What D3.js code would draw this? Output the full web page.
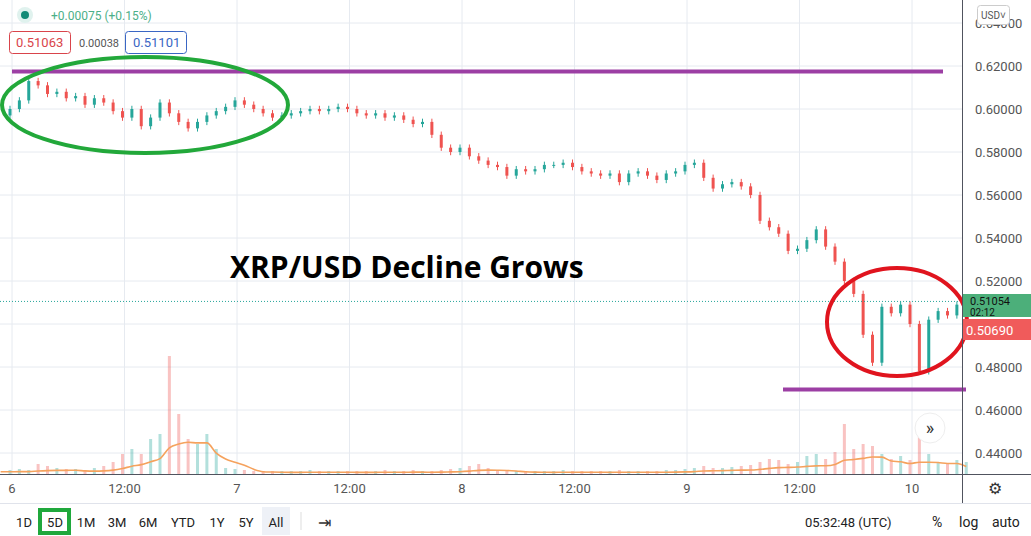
<!DOCTYPE html>
<html><head><meta charset="utf-8">
<script src="https://cdn.jsdelivr.net/npm/d3@7/dist/d3.min.js"></script>
<style>body{margin:0;background:#fff;font-family:Roboto,"Open Sans",sans-serif}</style>
</head><body><svg id="c" width="1031" height="536"></svg>
<script>
// hourly closes starting hour -1 (day 6 00:00 = hour 0)
const closes=[0.597,0.600,0.604,0.613,0.611,0.607,0.608,0.605,0.606,0.602,0.605,0.603,0.599,0.596,0.600,0.592,0.596,0.603,0.598,0.594,0.591,0.594,0.597,0.599,0.601,0.604,0.602,0.600,0.598,0.596,0.597,0.598,0.599,0.600,0.599,0.600,0.601,0.600,0.598,0.597,0.598,0.596,0.597,0.595,0.593,0.594,0.588,0.582,0.580,0.582,0.578,0.576,0.574,0.573,0.569,0.572,0.571,0.572,0.574,0.574,0.575,0.573,0.571,0.570,0.569,0.570,0.566,0.570,0.571,0.569,0.567,0.570,0.571,0.574,0.575,0.568,0.563,0.565,0.566,0.564,0.560,0.548,0.545,0.542,0.534,0.535,0.539,0.544,0.536,0.529,0.520,0.514,0.495,0.482,0.508,0.505,0.509,0.500,0.478,0.502,0.506,0.504,0.509,0.5105];
const volumes=[4,4,5,4,10,8,6,5,5,4,6,8,12,20,25,20,35,40,118,60,35,30,40,25,6,5,4,3,3,3,3,3,3,4,3,3,3,3,3,3,3,4,3,3,4,3,3,4,5,6,8,10,6,4,4,3,3,3,3,3,4,3,3,3,3,3,4,3,3,3,3,4,4,5,6,8,6,6,7,8,9,12,15,14,10,12,18,20,15,22,50,25,30,28,20,15,18,14,40,20,12,10,14,12];
const priceTicks=[0.44,0.46,0.48,0.50,0.52,0.54,0.56,0.58,0.60,0.62,0.64];
const priceLabels=[0.44,0.46,0.48,0.52,0.54,0.56,0.58,0.60,0.62,0.64];
const timeTicks=[[0,"6"],[12,"12:00"],[24,"7"],[36,"12:00"],[48,"8"],[60,"12:00"],[72,"9"],[84,"12:00"],[96,"10"]];
const ranges=["1D","5D","1M","3M","6M","YTD","1Y","5Y","All"];

const svg=d3.select("#c");
const W=962, B=474;
const x=d3.scaleLinear().domain([0,96]).range([10,910]);
const y=d3.scaleLinear().domain([0.44,0.62]).range([453,66]);
const vy=d3.scaleLinear().domain([0,130]).range([B,344]);
const grid="#e6eaf0";
svg.append("g").selectAll("line").data(priceTicks).join("line").attr("x1",0).attr("x2",W).attr("y1",d=>y(d)).attr("y2",d=>y(d)).attr("stroke",grid);
svg.append("g").selectAll("line").data(timeTicks).join("line").attr("x1",d=>x(d[0])+2).attr("x2",d=>x(d[0])+2).attr("y1",0).attr("y2",B).attr("stroke",grid);
const up="#26a69a", dn="#ef5350";
const candles=closes.slice(1).map((c,i)=>({h:i,o:closes[i],c}));
const vols=volumes;
svg.append("g").selectAll("rect").data(candles).join("rect")
 .attr("x",d=>x(d.h)-1.5).attr("width",3).attr("y",d=>vy(vols[d.h+1]||3)).attr("height",d=>B-vy(vols[d.h+1]||3))
 .attr("fill",d=>d.c>=d.o?"rgba(38,166,154,0.35)":"rgba(239,83,80,0.35)");
const ma=vols.map((v,i)=>d3.mean(vols.slice(Math.max(0,i-4),i+1)));
svg.append("path").attr("d",d3.line().x((d,i)=>x(i-1)).y(d=>vy(d*0.55)).curve(d3.curveMonotoneX)(ma))
 .attr("fill","none").attr("stroke","#f5a25d").attr("stroke-width",1.6);
const cg=svg.append("g");
cg.selectAll("line").data(candles).join("line").attr("x1",d=>x(d.h)).attr("x2",d=>x(d.h))
 .attr("y1",d=>y(Math.max(d.o,d.c)+0.0015)).attr("y2",d=>y(Math.min(d.o,d.c)-0.0015))
 .attr("stroke",d=>d.c>=d.o?up:dn);
cg.selectAll("rect").data(candles).join("rect").attr("x",d=>x(d.h)-1.5).attr("width",3)
 .attr("y",d=>y(Math.max(d.o,d.c))).attr("height",d=>Math.max(1,Math.abs(y(d.o)-y(d.c))))
 .attr("fill",d=>d.c>=d.o?up:dn);
const last=closes[closes.length-1];
svg.append("line").attr("x1",0).attr("x2",W).attr("y1",y(last)).attr("y2",y(last)).attr("stroke",up).attr("stroke-dasharray","1,2");
svg.append("line").attr("x1",12).attr("x2",943).attr("y1",y(0.6175)).attr("y2",y(0.6175)).attr("stroke","#9c3fa4").attr("stroke-width",4);
svg.append("line").attr("x1",783).attr("x2",966).attr("y1",y(0.4695)).attr("y2",y(0.4695)).attr("stroke","#9c3fa4").attr("stroke-width",4);
svg.append("ellipse").attr("cx",145).attr("cy",105).attr("rx",143).attr("ry",48).attr("fill","none").attr("stroke","#22a83a").attr("stroke-width",4);
svg.append("ellipse").attr("cx",897).attr("cy",322).attr("rx",70).attr("ry",54).attr("fill","none").attr("stroke","#e0141e").attr("stroke-width",4);
svg.append("text").attr("x",230).attr("y",278).text("XRP/USD Decline Grows").attr("font-family","'Open Sans',sans-serif").attr("font-weight",700).attr("font-size",30).attr("fill","#000");
svg.append("line").attr("x1",W+0.5).attr("x2",W+0.5).attr("y1",0).attr("y2",503).attr("stroke","#50535e");
svg.append("g").selectAll("text").data(priceLabels).join("text").attr("x",975).attr("y",d=>y(d)+5).text(d=>d.toFixed(5)).attr("font-size",13).attr("fill","#555");
svg.append("rect").attr("x",W+1).attr("y",294).attr("width",68).attr("height",23).attr("fill","#4caf7a");
svg.append("text").attr("x",970).attr("y",305).text("0.51054").attr("font-size",11).attr("fill","#111");
svg.append("text").attr("x",970).attr("y",316).text("02:12").attr("font-size",10).attr("fill","#111");
svg.append("rect").attr("x",W+1).attr("y",319).attr("width",68).attr("height",21).attr("fill","#f05b5b");
svg.append("text").attr("x",966).attr("y",335).text("0.50690").attr("font-size",13).attr("fill","#fff");
svg.append("rect").attr("x",977.5).attr("y",5.5).attr("width",32).attr("height",19).attr("rx",3).attr("fill","#fff").attr("stroke","#ccc");
svg.append("text").attr("x",981).attr("y",19).text("USD˅").attr("font-size",10).attr("fill","#555");
svg.append("line").attr("x1",0).attr("x2",1031).attr("y1",B+0.5).attr("y2",B+0.5).attr("stroke","#50535e");
svg.append("g").selectAll("text").data(timeTicks).join("text").attr("x",d=>x(d[0])+2).attr("y",493).attr("text-anchor","middle").text(d=>d[1]).attr("font-size",13).attr("fill","#555");
svg.append("line").attr("x1",0).attr("x2",1031).attr("y1",503.5).attr("y2",503.5).attr("stroke","#e0e3eb");
svg.append("text").attr("x",988).attr("y",494).text("⚙").attr("font-size",16).attr("fill","#333");
const rx=[24,55,86,117,148,183,217,246,276];
svg.append("rect").attr("x",262).attr("y",507).attr("width",28).attr("height",28).attr("fill","#eef1f7");
svg.append("rect").attr("x",40).attr("y",510).attr("width",29).attr("height",23).attr("fill","none").attr("stroke","#1fa83c").attr("stroke-width",4);
svg.append("g").selectAll("text").data(ranges).join("text").attr("x",(d,i)=>rx[i]).attr("y",527).attr("text-anchor","middle").text(d=>d).attr("font-size",13).attr("fill","#222");
svg.append("line").attr("x1",301).attr("x2",301).attr("y1",512).attr("y2",530).attr("stroke","#ddd");
svg.append("text").attr("x",318).attr("y",528).text("⇥").attr("font-size",16).attr("fill","#333");
svg.append("text").attr("x",805).attr("y",527).text("05:32:48 (UTC)").attr("font-size",13).attr("fill","#222");
svg.append("text").attr("x",932).attr("y",527).text("%").attr("font-size",14).attr("fill","#222");
svg.append("text").attr("x",959).attr("y",527).text("log").attr("font-size",14).attr("fill","#222");
svg.append("text").attr("x",992).attr("y",527).text("auto").attr("font-size",14).attr("fill","#222");
svg.append("circle").attr("cx",25).attr("cy",15).attr("r",8).attr("fill","#e0f2ee");
svg.append("circle").attr("cx",25).attr("cy",15).attr("r",4).attr("fill","#138a76");
svg.append("text").attr("x",51).attr("y",20).text("+0.00075 (+0.15%)").attr("font-size",12).attr("fill","#4caf88");
svg.append("rect").attr("x",9.5).attr("y",31.5).attr("width",61).attr("height",22).attr("rx",3).attr("fill","#fff").attr("stroke","#d9444b");
svg.append("text").attr("x",16).attr("y",47).text("0.51063").attr("font-size",13).attr("fill","#d9444b");
svg.append("text").attr("x",79).attr("y",47).text("0.00038").attr("font-size",11).attr("fill","#555");
svg.append("rect").attr("x",125.5).attr("y",31.5).attr("width",61).attr("height",22).attr("rx",3).attr("fill","#fff").attr("stroke","#3a66c4");
svg.append("text").attr("x",133).attr("y",47).text("0.51101").attr("font-size",13).attr("fill","#3a66c4");
svg.append("circle").attr("cx",930).attr("cy",428).attr("r",15).attr("fill","#fff").attr("stroke","#eee");
svg.append("text").attr("x",930).attr("y",434).attr("text-anchor","middle").text("»").attr("font-size",18).attr("fill","#333");
</script></body></html>
